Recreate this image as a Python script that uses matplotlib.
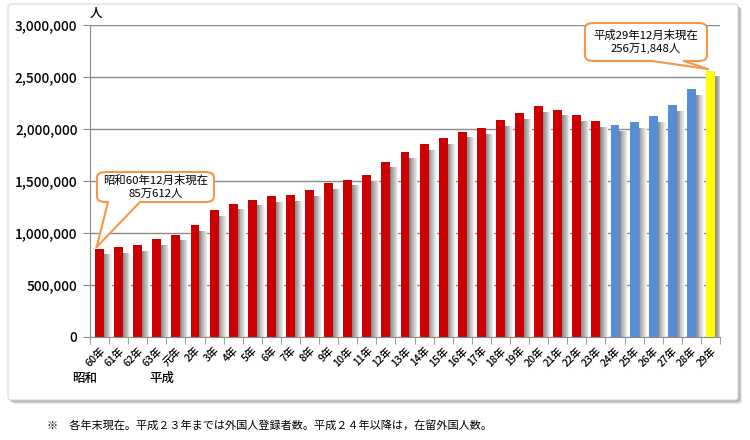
import matplotlib

matplotlib.use("Agg")

import matplotlib.pyplot as plt
from matplotlib.patches import FancyBboxPatch, Polygon
from matplotlib.lines import Line2D
import numpy as np

plt.rcParams["font.family"] = ["Noto Sans CJK JP", "DejaVu Sans"]

years = ["60年", "61年", "62年", "63年", "元年"] + [f"{n}年" for n in range(2, 30)]
residents = [
    850612, 867237, 884025, 941005, 984455, 1075317, 1218891, 1281644, 1320748,
    1354011, 1362371, 1415136, 1482707, 1512116, 1556113, 1686444, 1778462,
    1851758, 1915030, 1973747, 2011555, 2084919, 2152973, 2217426, 2186121,
    2134151, 2078508, 2033656, 2066445, 2121831, 2232189, 2382822, 2561848,
]
# 登録者数 (~H23) / 在留外国人数 (H24~) / 最新
bar_colors = ["#cc0000"] * 27 + ["#558ed5"] * 5 + ["#ffff00"]
yticks = [0, 500000, 1000000, 1500000, 2000000, 2500000, 3000000]

W, H = 750, 440


def px(x, y):
    return x / W, 1 - y / H


fig = plt.figure(figsize=(7.5, 4.4), dpi=100)
fig.patch.set_facecolor("white")

# outer panel with soft shadow
for off, col in [(4, "#e6e6e6"), (3, "#cfcfcf"), (2, "#b5b5b5")]:
    fig.patches.append(FancyBboxPatch(px(8 + off, 400 + off), 730 / W, 396 / H,
                                      boxstyle="round,pad=0,rounding_size=0.006",
                                      transform=fig.transFigure, facecolor=col,
                                      edgecolor="none", zorder=-3))
fig.patches.append(FancyBboxPatch(px(8, 400), 730 / W, 396 / H,
                                  boxstyle="round,pad=0,rounding_size=0.006",
                                  transform=fig.transFigure, facecolor="white",
                                  edgecolor="#d8d8d8", linewidth=0.8, zorder=-2))

ax = fig.add_axes([90 / W, 1 - 337 / H, 630 / W, 312 / H])
ax.set_facecolor("none")
x = np.arange(len(years))
vals = np.array(residents)

# bar shadows: gray gradient to the right
shades = np.linspace(0.5, 0.96, 10)
sw = 0.45 / len(shades)
for k, g in enumerate(shades):
    ax.bar(x + 0.2 + k * sw, vals - 55000, width=sw, bottom=0, align="edge",
           color=str(g), edgecolor="none", zorder=1)
ax.bar(x, vals, width=0.47, color=bar_colors, edgecolor="none", zorder=2)

ax.set_xlim(-0.5, len(years) - 0.5)
ax.set_ylim(0, 3000000)
ax.set_yticks(yticks)
ax.set_yticklabels([f"{v:,}" for v in yticks], fontsize=9.8, fontweight="medium")
ax.yaxis.grid(True, color="#8c8c8c", linewidth=1.0, zorder=0)
ax.set_axisbelow(True)
ax.set_xticks(x)
ax.set_xticklabels(years, rotation=45, ha="right", va="top", fontsize=7.5,
                   fontweight="medium", rotation_mode="anchor")
ax.tick_params(axis="x", length=0, pad=6)
ax.set_xticks(np.arange(-0.5, len(years)), minor=True)
ax.tick_params(axis="x", which="minor", length=5, color="#8c8c8c", direction="out")
ax.tick_params(axis="y", length=5, color="#8c8c8c", pad=4)
for s in ["top", "right"]:
    ax.spines[s].set_visible(False)
for s in ["left", "bottom"]:
    ax.spines[s].set_color("#8c8c8c")

fig.text(*px(96, 13), "人", fontsize=9, fontweight="medium", ha="center", va="center")
fig.text(*px(85, 378), "昭和", fontsize=9, fontweight="medium", ha="center", va="center")
fig.text(*px(162, 378), "平成", fontsize=9, fontweight="medium", ha="center", va="center")
fig.text(*px(47, 425), "※　各年末現在。平成２３年までは外国人登録者数。平成２４年以降は，在留外国人数。",
         fontsize=8, ha="left", va="center")


def callout(box, base, tip_idx, lines):
    x0, y0, x1, y1 = box
    orange = "#f79646"
    fig.patches.append(FancyBboxPatch(px(x0, y1), (x1 - x0) / W, (y1 - y0) / H,
                                      boxstyle="round,pad=0,rounding_size=0.012",
                                      transform=fig.transFigure, facecolor="white",
                                      edgecolor=orange, linewidth=1.5, zorder=5))
    tip = fig.transFigure.inverted().transform(
        ax.transData.transform((tip_idx - 0.15, vals[tip_idx] + 15000)))
    b0, b1 = px(base[0], y1), px(base[1], y1)
    fig.patches.append(Polygon([px(base[0], y1 - 2), px(base[1], y1 - 2), b1, tuple(tip), b0],
                               closed=True, transform=fig.transFigure,
                               facecolor="white", edgecolor="none", zorder=6))
    for b in (b0, b1):
        fig.lines.append(Line2D([b[0], tip[0]], [b[1], tip[1]], color=orange,
                                linewidth=1.5, transform=fig.transFigure, zorder=7))
    cx = (x0 + x1) / 2
    fig.text(*px(cx, (y0 + y1) / 2), "\n".join(lines), fontsize=8.2, ha="center",
             va="center", linespacing=1.3, zorder=8)


callout((97, 172, 214, 202), (108, 140), 0, ["昭和60年12月末現在", "85万612人"])
callout((585, 23, 707, 61), (652, 684), 32, ["平成29年12月末現在", "256万1,848人"])

fig.savefig("out.png", dpi=100)
